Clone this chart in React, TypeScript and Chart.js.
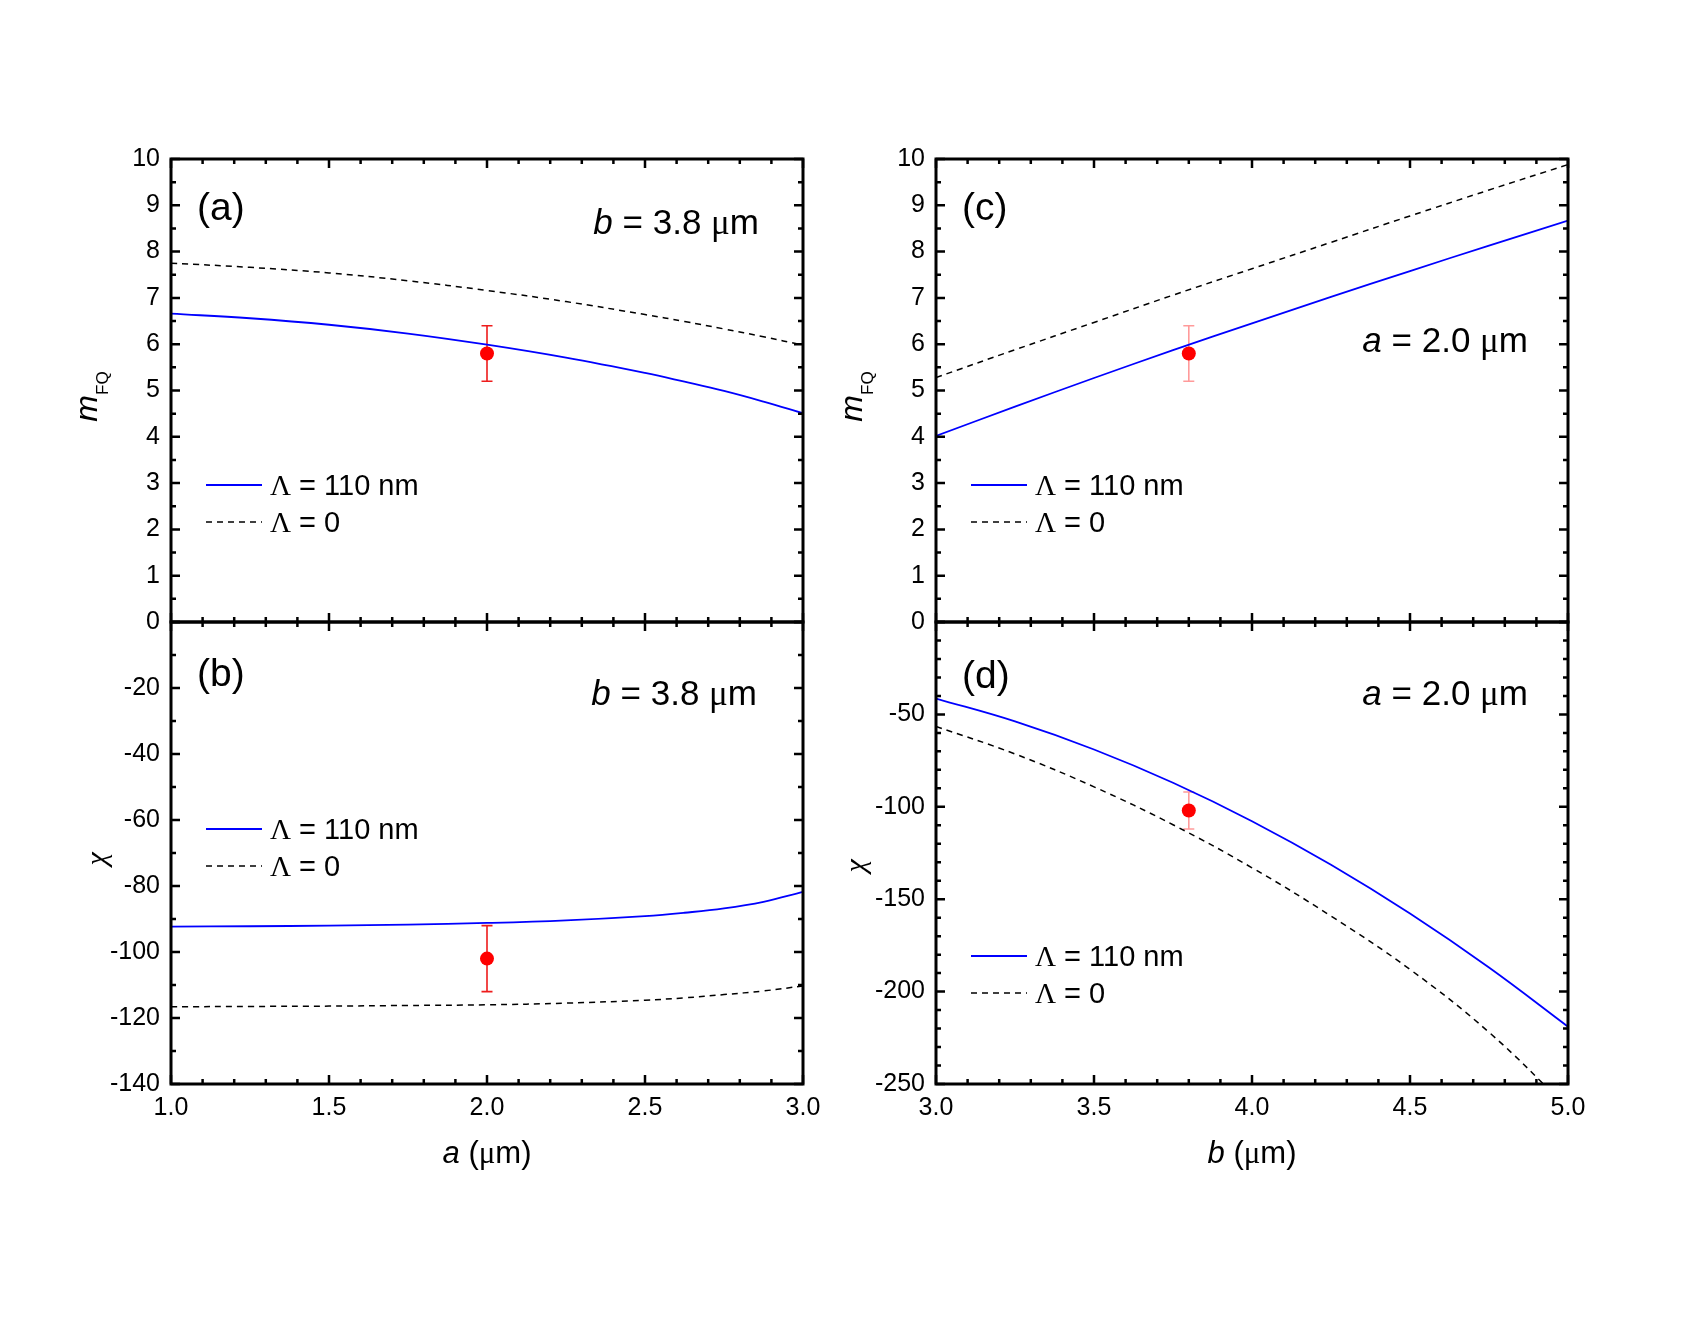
import { useEffect, useRef } from 'react';
import { Chart, registerables } from 'chart.js';

Chart.register(...registerables);

// ---------------- data ----------------
// measured sample geometry (µm) and measured quantities
const sampleA = 2.0;
const sampleB = 3.8;
const measuredMfq = 5.8;
const measuredMfqErr = 0.6;
const measuredChi = -102;
const measuredChiErr = 10;

const seriesLabels = ['Λ = 110 nm', 'Λ = 0'];

// curves versus a (b fixed)
const aGrid = [1.0, 1.25, 1.5, 1.75, 2.0, 2.25, 2.5, 2.625, 2.75, 2.875, 3.0];
const mfqVsA110 = [6.66, 6.56, 6.42, 6.23, 5.99, 5.71, 5.38, 5.19, 4.99, 4.76, 4.51];
const mfqVsA0 = [7.75, 7.66, 7.54, 7.37, 7.16, 6.92, 6.64, 6.49, 6.33, 6.16, 5.98];
const chiVsA110 = [-92.3, -92.2, -92.0, -91.7, -91.2, -90.4, -89.1, -88.1, -86.8, -84.8, -81.8];
const chiVsA0 = [-116.6, -116.5, -116.4, -116.2, -116.0, -115.5, -114.6, -113.9, -112.9, -111.8, -110.3];

// curves versus b (a fixed)
const bGrid = [3.0, 3.25, 3.5, 3.75, 4.0, 4.25, 4.5, 4.75, 5.0];
const mfqVsB110 = [4.02, 4.65, 5.27, 5.87, 6.45, 7.02, 7.58, 8.13, 8.67];
const mfqVsB0 = [5.28, 5.88, 6.47, 7.06, 7.63, 8.2, 8.77, 9.33, 9.88];
const chiVsB110 = [-41.4, -53.8, -69.0, -87.0, -107.8, -131.4, -157.8, -187.0, -219.0];
const chiVsB0 = [-56.5, -71.4, -89.2, -109.7, -133, -159.1, -188, -222, -263];

// axis ranges and tick spacing
const aAxis = { min: 1.0, max: 3.0, major: 0.5, minor: 0.1 };
const bAxis = { min: 3.0, max: 5.0, major: 0.5, minor: 0.1 };
const mfqAxis = { min: 0, max: 10, major: 1, minor: 0.5 };
const chiAxisA = { min: -140, max: 0, major: 20, minor: 10 };
const chiAxisB = { min: -250, max: 0, major: 50, minor: 10 };

// ---------------- styling ----------------
const PAGE_W = 1705;
const PAGE_H = 1334;
const SANS = '"Liberation Sans", Arial, Helvetica, sans-serif';
const SERIF = '"Liberation Serif", "Times New Roman", serif';
const Y_AXIS_W = 80;
const X_AXIS_H = 44;
const TICK_SIZE = 25;
const LEGEND_SIZE = 29;
const NOTE_SIZE = 35;
const LETTER_SIZE = 39;
const FIT_COLOR = '#0000ff';
const BARE_COLOR = '#000000';
const POINT_COLOR = '#ff0000';

type Run = { text: string; font: string; dy?: number };
type AxisSpec = { min: number; max: number; major: number; minor: number };

// split a label into runs, setting Greek letters in the serif face
function toRuns(text: string, size: number): Run[] {
  const runs: Run[] = [];
  for (const ch of text) {
    const greek = /[\u0370-\u03FF\u00B5]/.test(ch);
    const font = `${size}px ${greek ? SERIF : SANS}`;
    const last = runs[runs.length - 1];
    if (last && last.font === font) last.text += ch;
    else runs.push({ text: ch, font });
  }
  return runs;
}

function drawRuns(ctx: CanvasRenderingContext2D, runs: Run[], x: number, y: number, align: 'left' | 'center' | 'right') {
  let total = 0;
  const widths = runs.map((r) => {
    ctx.font = r.font;
    const w = ctx.measureText(r.text).width;
    total += w;
    return w;
  });
  let cx = align === 'left' ? x : align === 'center' ? x - total / 2 : x - total;
  ctx.textAlign = 'left';
  ctx.textBaseline = 'alphabetic';
  runs.forEach((r, i) => {
    ctx.font = r.font;
    ctx.fillText(r.text, cx, y + (r.dy || 0));
    cx += widths[i];
  });
}

function steps(min: number, max: number, step: number): number[] {
  const out: number[] = [];
  for (let i = 0; ; i++) {
    const v = min + i * step;
    if (v > max + step * 1e-6) break;
    out.push(Math.round(v * 1e6) / 1e6);
  }
  return out;
}

const fixedNote = (name: string, value: number): Run[] => [
  { text: name, font: `italic ${NOTE_SIZE}px ${SANS}` },
  { text: ` = ${value.toFixed(1)} `, font: `${NOTE_SIZE}px ${SANS}` },
  { text: 'μ', font: `${NOTE_SIZE}px ${SERIF}` },
  { text: 'm', font: `${NOTE_SIZE}px ${SANS}` },
];
const mfqTitle: Run[] = [
  { text: 'm', font: `italic 32px ${SANS}` },
  { text: 'FQ', font: `17px ${SANS}`, dy: 11 },
];
const chiTitle: Run[] = [{ text: 'χ', font: `italic 30px ${SERIF}` }];
const axisTitle = (v: string): Run[] => [
  { text: v, font: `italic 31px ${SANS}` },
  { text: ' (', font: `31px ${SANS}` },
  { text: 'μ', font: `31px ${SERIF}` },
  { text: 'm)', font: `31px ${SANS}` },
];

interface PanelSpec {
  frame: { left: number; top: number; right: number; bottom: number };
  xs: number[];
  fit: number[];
  bare: number[];
  pointX: number;
  pointY: number;
  pointErr: number;
  barColor: string;
  xAxis: AxisSpec;
  yAxis: AxisSpec;
  showXLabels: boolean;
  hideYLabel?: number;
  letter: string;
  letterBase: number;
  note: Run[];
  noteRight: number;
  noteBase: number;
  legendTop: number;
  yTitle: Run[];
  yTitleX: number;
  yTitleDy: number;
  xTitle?: Run[];
}

const LEFT_X = { left: 171, right: 803 };
const RIGHT_X = { left: 936, right: 1568 };
const TOP_Y = { top: 159, bottom: 622 };
const BOT_Y = { top: 622, bottom: 1084 };

const panels: PanelSpec[] = [
  {
    frame: { ...LEFT_X, ...TOP_Y },
    xs: aGrid, fit: mfqVsA110, bare: mfqVsA0,
    pointX: sampleA, pointY: measuredMfq, pointErr: measuredMfqErr, barColor: '#ee1c1c',
    xAxis: aAxis, yAxis: mfqAxis, showXLabels: false,
    letter: '(a)', letterBase: 61,
    note: fixedNote('b', sampleB), noteRight: 44, noteBase: 75,
    legendTop: 326,
    yTitle: mfqTitle, yTitleX: -74, yTitleDy: 6,
  },
  {
    frame: { ...LEFT_X, ...BOT_Y },
    xs: aGrid, fit: chiVsA110, bare: chiVsA0,
    pointX: sampleA, pointY: measuredChi, pointErr: measuredChiErr, barColor: '#ee1c1c',
    xAxis: aAxis, yAxis: chiAxisA, showXLabels: true, hideYLabel: 0,
    letter: '(b)', letterBase: 64,
    note: fixedNote('b', sampleB), noteRight: 46, noteBase: 83,
    legendTop: 207,
    yTitle: chiTitle, yTitleX: -65, yTitleDy: 6,
    xTitle: axisTitle('a'),
  },
  {
    frame: { ...RIGHT_X, ...TOP_Y },
    xs: bGrid, fit: mfqVsB110, bare: mfqVsB0,
    pointX: sampleB, pointY: measuredMfq, pointErr: measuredMfqErr, barColor: '#ff9a9a',
    xAxis: bAxis, yAxis: mfqAxis, showXLabels: false,
    letter: '(c)', letterBase: 61,
    note: fixedNote('a', sampleA), noteRight: 40, noteBase: 193,
    legendTop: 326,
    yTitle: mfqTitle, yTitleX: -74, yTitleDy: 6,
  },
  {
    frame: { ...RIGHT_X, ...BOT_Y },
    xs: bGrid, fit: chiVsB110, bare: chiVsB0,
    pointX: sampleB, pointY: measuredChi, pointErr: measuredChiErr, barColor: '#ff9a9a',
    xAxis: bAxis, yAxis: chiAxisB, showXLabels: true, hideYLabel: 0,
    letter: '(d)', letterBase: 66,
    note: fixedNote('a', sampleA), noteRight: 40, noteBase: 83,
    legendTop: 334,
    yTitle: chiTitle, yTitleX: -71, yTitleDy: 13,
    xTitle: axisTitle('b'),
  },
];

function zeroPadding(s: any) {
  s.paddingLeft = 0;
  s.paddingRight = 0;
  s.paddingTop = 0;
  s.paddingBottom = 0;
}

function makeChart(canvas: HTMLCanvasElement, spec: PanelSpec): Chart {
  const f = spec.frame;

  const decor = {
    id: 'panelDecor',
    beforeDatasetsDraw(chart: any) {
      const ctx: CanvasRenderingContext2D = chart.ctx;
      const xs = chart.scales.x;
      const ys = chart.scales.y;
      const px = xs.getPixelForValue(spec.pointX);
      const pTop = ys.getPixelForValue(spec.pointY + spec.pointErr);
      const pBot = ys.getPixelForValue(spec.pointY - spec.pointErr);
      ctx.save();
      ctx.strokeStyle = spec.barColor;
      ctx.lineWidth = 1.6;
      ctx.beginPath();
      ctx.moveTo(px, pTop);
      ctx.lineTo(px, pBot);
      ctx.moveTo(px - 5.5, pTop);
      ctx.lineTo(px + 5.5, pTop);
      ctx.moveTo(px - 5.5, pBot);
      ctx.lineTo(px + 5.5, pBot);
      ctx.stroke();
      ctx.restore();
    },
    afterDatasetsDraw(chart: any) {
      const ctx: CanvasRenderingContext2D = chart.ctx;
      const { left, right, top, bottom } = chart.chartArea;
      const xs = chart.scales.x;
      const ys = chart.scales.y;
      ctx.save();
      ctx.strokeStyle = '#000';
      ctx.lineCap = 'butt';
      ctx.lineWidth = 2.5;
      const isMajor = (v: number, ax: AxisSpec) => {
        const r = (v - ax.min) / ax.major;
        return Math.abs(r - Math.round(r)) < 1e-6;
      };
      ctx.beginPath();
      for (const v of steps(spec.xAxis.min, spec.xAxis.max, spec.xAxis.minor)) {
        const len = isMajor(v, spec.xAxis) ? 9 : 5;
        const p = xs.getPixelForValue(v);
        ctx.moveTo(p, bottom);
        ctx.lineTo(p, bottom - len);
        ctx.moveTo(p, top);
        ctx.lineTo(p, top + len);
      }
      for (const v of steps(spec.yAxis.min, spec.yAxis.max, spec.yAxis.minor)) {
        const len = isMajor(v, spec.yAxis) ? 9 : 5;
        const p = ys.getPixelForValue(v);
        ctx.moveTo(left, p);
        ctx.lineTo(left + len, p);
        ctx.moveTo(right, p);
        ctx.lineTo(right - len, p);
      }
      ctx.stroke();
      ctx.lineWidth = 3;
      ctx.strokeRect(left, top, right - left, bottom - top);
      ctx.restore();
    },
    afterDraw(chart: any) {
      const ctx: CanvasRenderingContext2D = chart.ctx;
      const { left, right, top, bottom } = chart.chartArea;
      ctx.save();
      ctx.fillStyle = '#000';

      // legend
      chart.data.datasets.slice(0, 2).forEach((ds: any, i: number) => {
        const y = top + spec.legendTop + i * 37;
        ctx.save();
        ctx.strokeStyle = ds.borderColor;
        ctx.lineWidth = ds.borderWidth;
        ctx.setLineDash(ds.borderDash || []);
        ctx.beginPath();
        ctx.moveTo(left + 35, y);
        ctx.lineTo(left + 91, y);
        ctx.stroke();
        ctx.restore();
        drawRuns(ctx, toRuns(ds.label, LEGEND_SIZE), left + 99, y + 10, 'left');
      });

      // panel letter and fixed-parameter note
      drawRuns(ctx, toRuns(spec.letter, LETTER_SIZE), left + 26, top + spec.letterBase, 'left');
      drawRuns(ctx, spec.note, right - spec.noteRight, top + spec.noteBase, 'right');

      // y-axis title, rotated
      ctx.save();
      ctx.translate(left + spec.yTitleX, (top + bottom) / 2 + spec.yTitleDy);
      ctx.rotate(-Math.PI / 2);
      drawRuns(ctx, spec.yTitle, 0, 0, 'center');
      ctx.restore();

      // x-axis title
      if (spec.xTitle) drawRuns(ctx, spec.xTitle, (left + right) / 2, bottom + 79, 'center');
      ctx.restore();
    },
  };

  return new Chart(canvas, {
    type: 'line',
    data: {
      datasets: [
        {
          label: seriesLabels[0],
          data: spec.xs.map((x, i) => ({ x, y: spec.fit[i] })),
          borderColor: FIT_COLOR,
          borderWidth: 1.8,
          pointRadius: 0,
          tension: 0.4,
          fill: false,
          order: 1,
        },
        {
          label: seriesLabels[1],
          data: spec.xs.map((x, i) => ({ x, y: spec.bare[i] })),
          borderColor: BARE_COLOR,
          borderWidth: 1.5,
          borderDash: [6, 5],
          pointRadius: 0,
          tension: 0.4,
          fill: false,
          order: 2,
        },
        {
          label: 'measured',
          data: [{ x: spec.pointX, y: spec.pointY }],
          showLine: false,
          pointRadius: 7,
          pointBackgroundColor: POINT_COLOR,
          pointBorderWidth: 0,
          borderColor: POINT_COLOR,
          order: 0,
        },
      ] as any,
    },
    options: {
      responsive: false,
      animation: false,
      events: [],
      layout: {
        padding: {
          left: f.left - Y_AXIS_W,
          right: PAGE_W - f.right,
          top: f.top,
          bottom: PAGE_H - f.bottom - (spec.showXLabels ? X_AXIS_H : 0),
        },
      },
      plugins: {
        legend: { display: false },
        tooltip: { enabled: false },
        title: { display: false },
      },
      scales: {
        x: {
          type: 'linear',
          min: spec.xAxis.min,
          max: spec.xAxis.max,
          grid: { display: false, drawTicks: false },
          border: { display: false },
          ticks: {
            display: spec.showXLabels,
            stepSize: spec.xAxis.major,
            autoSkip: false,
            maxRotation: 0,
            padding: 9,
            color: '#000',
            font: { family: SANS, size: TICK_SIZE },
            callback: (v: any) => Number(v).toFixed(1),
          },
          afterFit: (s: any) => {
            s.height = spec.showXLabels ? X_AXIS_H : 0;
            zeroPadding(s);
          },
        },
        y: {
          type: 'linear',
          min: spec.yAxis.min,
          max: spec.yAxis.max,
          grid: { display: false, drawTicks: false },
          border: { display: false },
          ticks: {
            stepSize: spec.yAxis.major,
            autoSkip: false,
            padding: 11,
            color: '#000',
            font: { family: SANS, size: TICK_SIZE },
            callback: (v: any) =>
              spec.hideYLabel !== undefined && Math.abs(Number(v) - spec.hideYLabel) < 1e-9 ? '' : String(v),
          },
          afterFit: (s: any) => {
            s.width = Y_AXIS_W;
            zeroPadding(s);
          },
        },
      },
    } as any,
    plugins: [decor],
  });
}

function Panel({ spec }: { spec: PanelSpec }) {
  const ref = useRef<HTMLCanvasElement | null>(null);
  useEffect(() => {
    if (!ref.current) return;
    const chart = makeChart(ref.current, spec);
    return () => chart.destroy();
  }, [spec]);
  return (
    <canvas
      ref={ref}
      width={PAGE_W}
      height={PAGE_H}
      style={{ position: 'absolute', left: 0, top: 0, width: PAGE_W, height: PAGE_H }}
    />
  );
}

export default function App() {
  return (
    <div
      style={{
        position: 'absolute',
        left: 0,
        top: 0,
        width: PAGE_W,
        height: PAGE_H,
        background: '#ffffff',
        overflow: 'hidden',
      }}
    >
      {panels.map((p, i) => (
        <Panel key={i} spec={p} />
      ))}
    </div>
  );
}
